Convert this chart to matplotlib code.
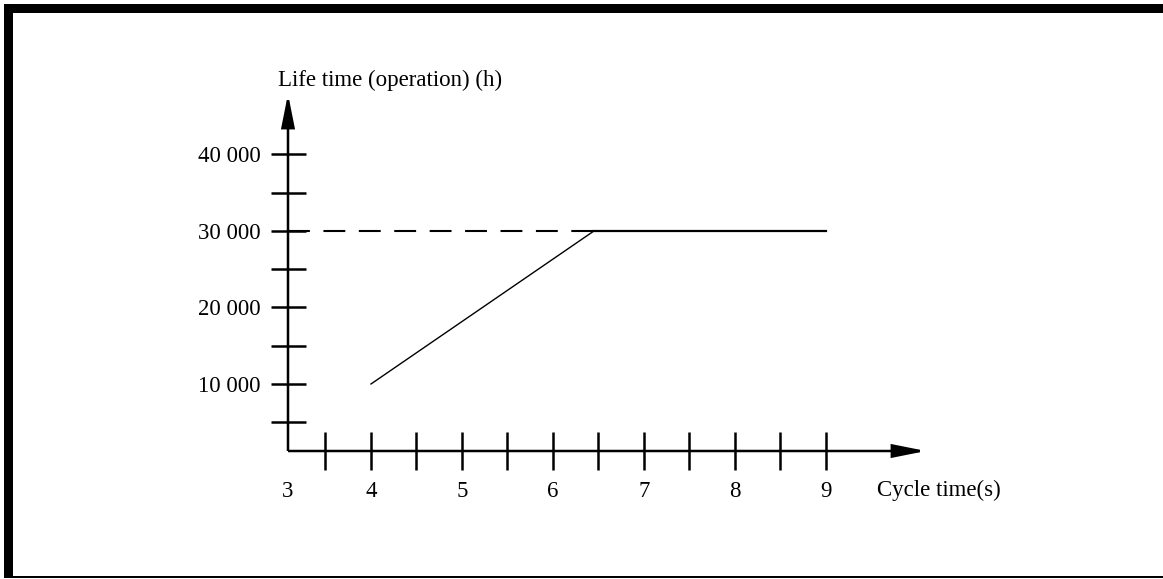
import matplotlib
matplotlib.use("Agg")
import matplotlib.pyplot as plt
from matplotlib.patches import Rectangle

plt.rcParams['font.family'] = ['Liberation Serif', 'DejaVu Serif']

# ---- data ----
x_major_ticks = [4, 5, 6, 7, 8, 9]
x_minor_ticks = [3.5, 4.5, 5.5, 6.5, 7.5, 8.5]
x_tick_labels = ['3', '4', '5', '6', '7', '8', '9']
y_major_ticks = [10000, 20000, 30000, 40000]
y_minor_ticks = [5000, 15000, 25000, 35000]
y_tick_labels = ['10 000', '20 000', '30 000', '40 000']
life_x = [4, 6.45, 9]
life_y = [10000, 30000, 30000]
ref_level = 30000
x_title = 'Cycle time(s)'
y_title = 'Life time (operation) (h)'

# ---- layout ----
W, H, DPI = 1163, 579, 100
fig = plt.figure(figsize=(W / DPI, H / DPI), dpi=DPI)
fig.patch.set_facecolor('white')

def fx(px):
    return px / W

def fy(py):
    return 1 - py / H

ox, oy, tx, ty = 288, 451, 920, 100
ax = fig.add_axes([fx(ox), fy(oy), fx(tx) - fx(ox), fy(ty) - fy(oy)])
x0, x1 = 3.088, 10.033
y0, y1 = 1240, 47120
ax.set_xlim(x0, x1)
ax.set_ylim(y0, y1)
ax.patch.set_visible(False)
for s in ax.spines.values():
    s.set_visible(False)

fs = 16.5
ax.set_xticks([x0] + x_major_ticks, x_tick_labels, fontsize=fs)
ax.set_xticks(x_minor_ticks, minor=True)
ax.set_yticks(y_major_ticks, y_tick_labels, fontsize=fs)
ax.set_yticks(y_minor_ticks, minor=True)
ax.tick_params(axis='x', which='both', direction='inout', length=27.4, width=1.8,
               pad=8, color='black')
ax.tick_params(axis='y', which='both', direction='inout', length=25.2, width=1.8,
               pad=7, color='black')
ax.xaxis.get_major_ticks()[0].tick1line.set_visible(False)

# axes with arrowheads
arrow_style = '-|>,head_length=2.0,head_width=0.4'
for end in [(0, 1.017), (1.0095, 0)]:
    ax.annotate('', xy=end, xytext=(0, 0), xycoords='axes fraction',
                textcoords='axes fraction',
                arrowprops=dict(arrowstyle=arrow_style, mutation_scale=10,
                                lw=1.8, color='black', shrinkA=0, shrinkB=0,
                                joinstyle='miter', capstyle='butt'),
                annotation_clip=False)

# data lines
ax.plot([x0, life_x[1]], [ref_level, ref_level], color='black', lw=1.5,
        dashes=(10.5, 6.5), solid_capstyle='butt', clip_on=False)
ax.plot(life_x[:2], life_y[:2], color='black', lw=1.0, clip_on=False)
ax.plot(life_x[1:], life_y[1:], color='black', lw=1.6, clip_on=False)

# titles
fig.text(fx(278), fy(86), y_title, fontsize=fs, va='baseline', ha='left')
fig.text(fx(877), fy(496), x_title, fontsize=fs, va='baseline', ha='left')

# frame
fig.add_artist(Rectangle((fx(4), fy(13)), 1 - fx(4), fy(4) - fy(13),
                         transform=fig.transFigure, color='black', lw=0))
fig.add_artist(Rectangle((fx(4), fy(578)), fx(13) - fx(4), fy(4) - fy(578),
                         transform=fig.transFigure, color='black', lw=0))
fig.add_artist(Rectangle((fx(4), fy(578)), 1 - fx(4), fy(576) - fy(578),
                         transform=fig.transFigure, color='black', lw=0))

fig.savefig('out.png', dpi=DPI)
